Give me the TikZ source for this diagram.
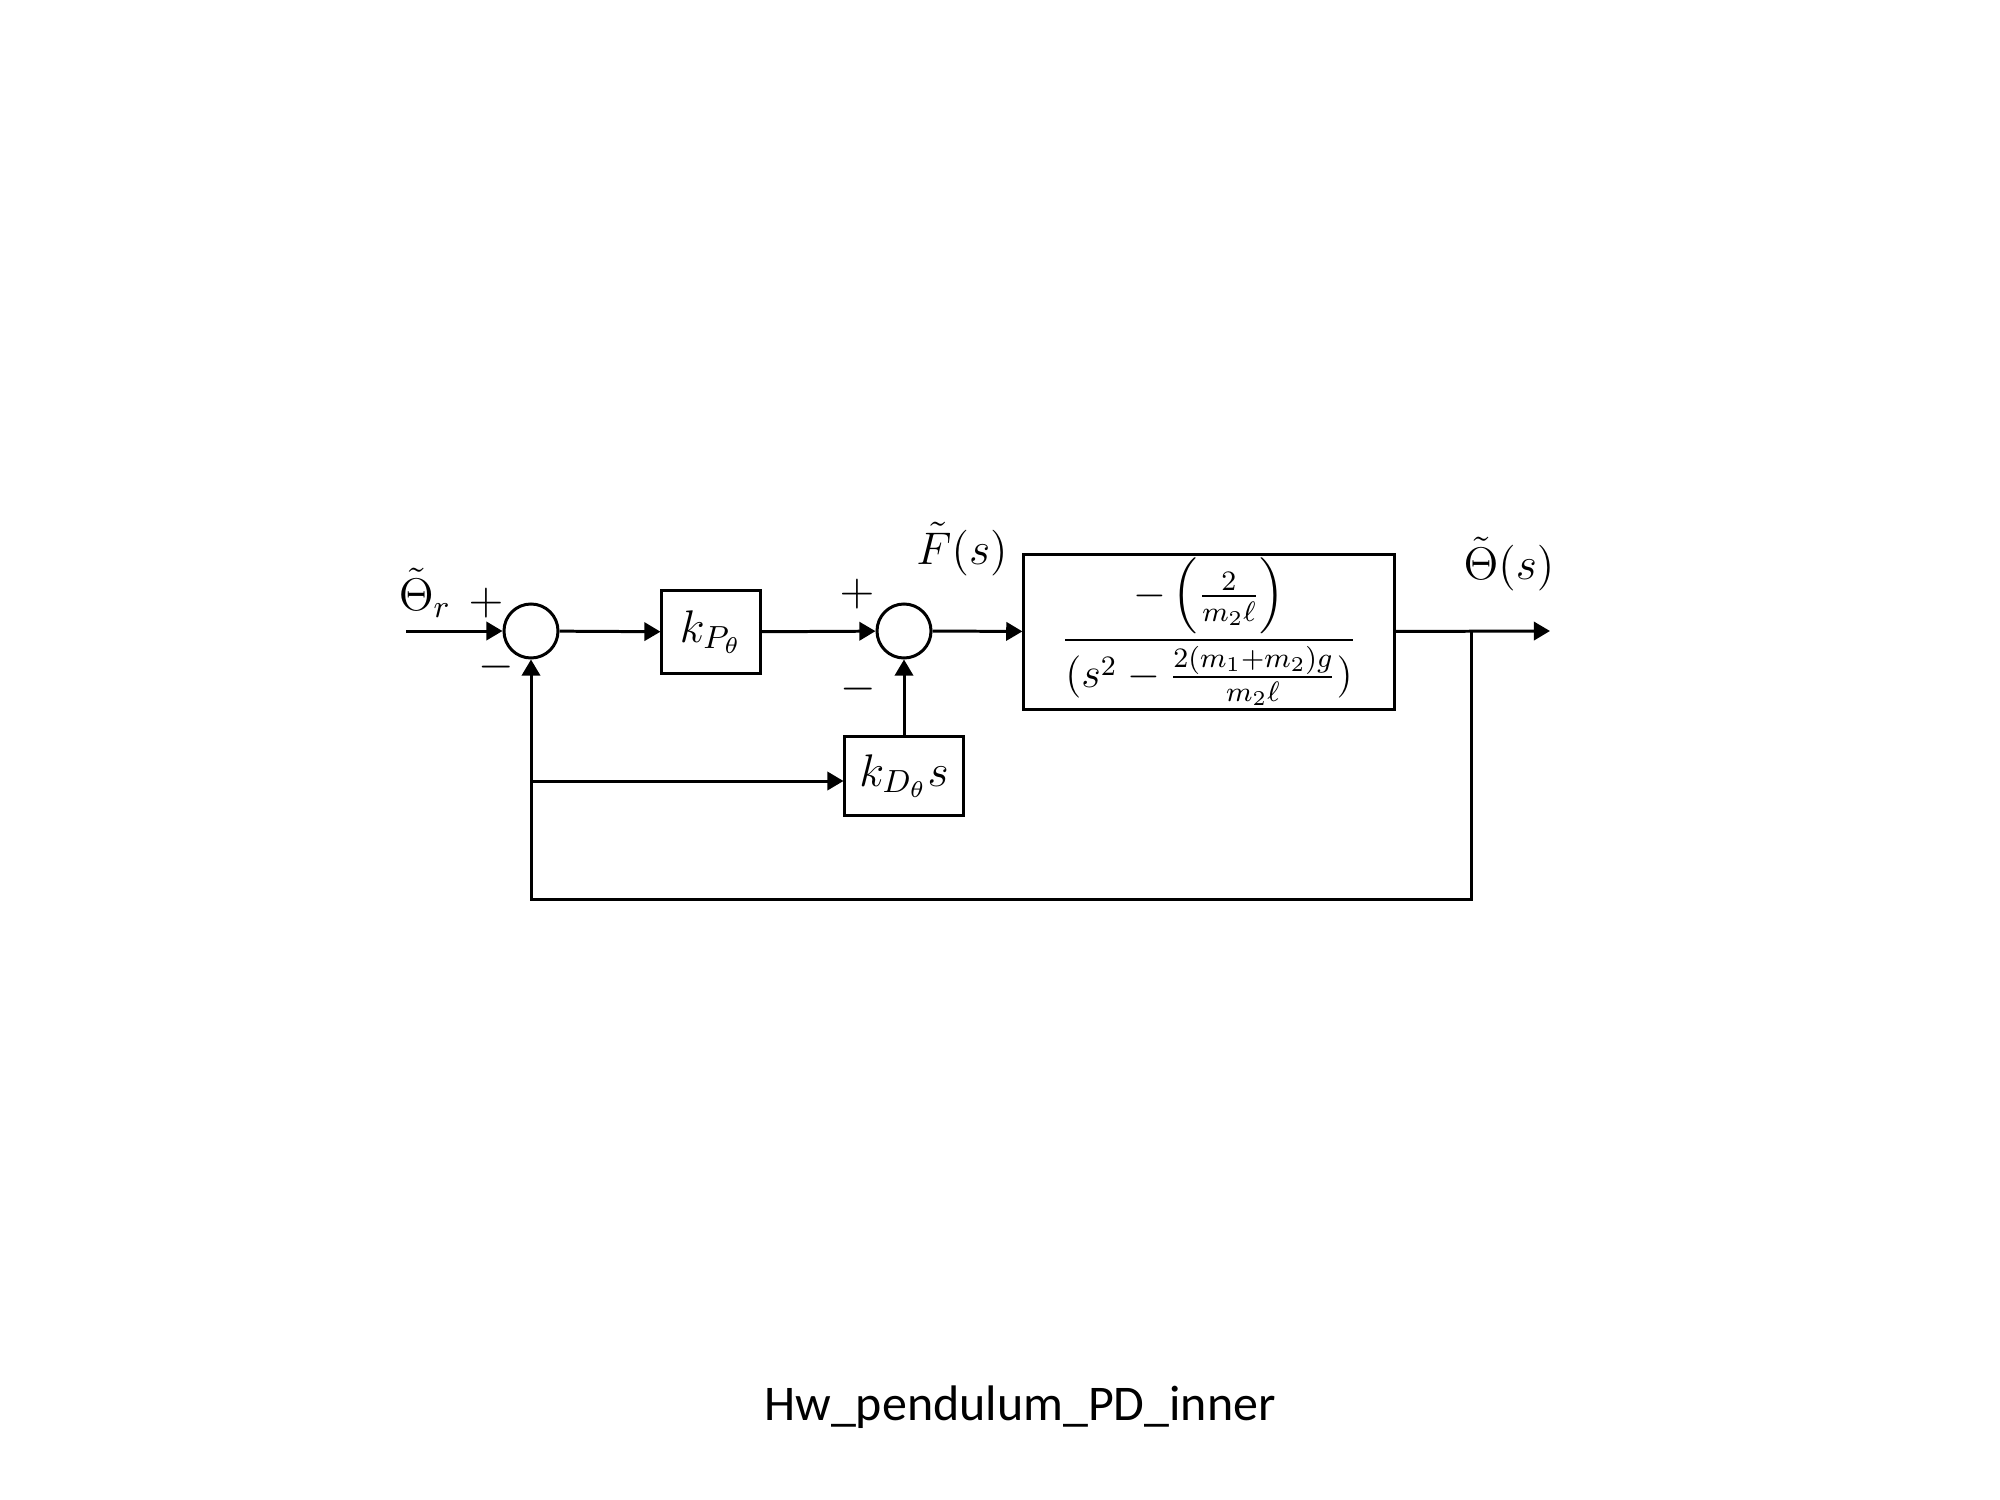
\RequirePackage{fix-cm}
\documentclass[tikz,border=0pt]{standalone}
\usepackage{amsmath}
\usepackage{fontspec}
\newfontfamily\captionfont{Carlito}
\usetikzlibrary{arrows.meta,calc}

\tikzset{
  wire/.style={line width=0.85pt},
  arrow/.style={wire,-{Triangle[length=4.6pt,width=5.2pt]}},
  sumnode/.style={circle,draw,line width=0.85pt,minimum size=0.54cm,inner sep=0pt},
  block/.style={draw,line width=0.85pt,inner sep=0pt},
  lbl/.style={inner sep=0pt},
}

\begin{document}
\begin{tikzpicture}[x=0.01cm,y=-0.01cm,
  every node/.append style={font=\fontsize{13}{15.6}\selectfont}]
  \useasboundingbox (0,0) rectangle (2000,1500);

  % summing junctions and blocks
  \node[sumnode] (sum1) at (531,631) {};
  \node[block,minimum width=0.98cm,minimum height=0.82cm] (kP) at (711,632) {$k_{P_\theta}$};
  \node[sumnode] (sum2) at (904,631) {};
  \node[block,minimum width=3.70cm,minimum height=1.54cm,font=\fontsize{12}{14.4}\selectfont] (plant) at (1209,632)
    {$\displaystyle\frac{-\left(\frac{2}{m_2\ell}\right)}{(s^2-\frac{2(m_1+m_2)g}{m_2\ell})}$};
  \node[block,minimum width=1.18cm,minimum height=0.79cm] (kD) at (904,776) {$k_{D_\theta}s$};

  % signal points
  \coordinate (in) at (406,631);
  \coordinate (out) at (1550,631);
  \coordinate (br) at (1471,631);
  \coordinate (fb) at (1471,899);
  \coordinate (tap) at (531,781);

  % forward path
  \draw[arrow] (in) -- (sum1);
  \draw[arrow] (sum1) -- (kP);
  \draw[arrow] (kP) -- (sum2);
  \draw[arrow] (sum2) -- (plant);
  \draw[arrow] (plant) -- (out);

  % derivative feedback
  \draw[arrow] (kD) -- (sum2);
  \draw[arrow] (tap) -- (tap -| kD.west);

  % outer feedback loop
  \draw[arrow] (br) -- (fb) -| (sum1);

  % signs and signal labels
  \node[lbl] (p1) at (486,603) {$+$};
  \node[lbl] (m1) at (496,667) {$-$};
  \node[lbl] (p2) at (857,594) {$+$};
  \node[lbl] (m2) at (858,689) {$-$};
  \node[lbl] (thr) at (425,593) {$\tilde{\Theta}_r$};
  \node[lbl] (fs) at (962,549) {$\tilde{F}(s)$};
  \node[lbl] (ths) at (1509,564) {$\tilde{\Theta}(s)$};

  % caption
  \node[lbl,font=\captionfont\fontsize{14.2}{17}\selectfont] (cap) at (1020,1407) {Hw\_pendulum\_PD\_inner};
\end{tikzpicture}
\end{document}
